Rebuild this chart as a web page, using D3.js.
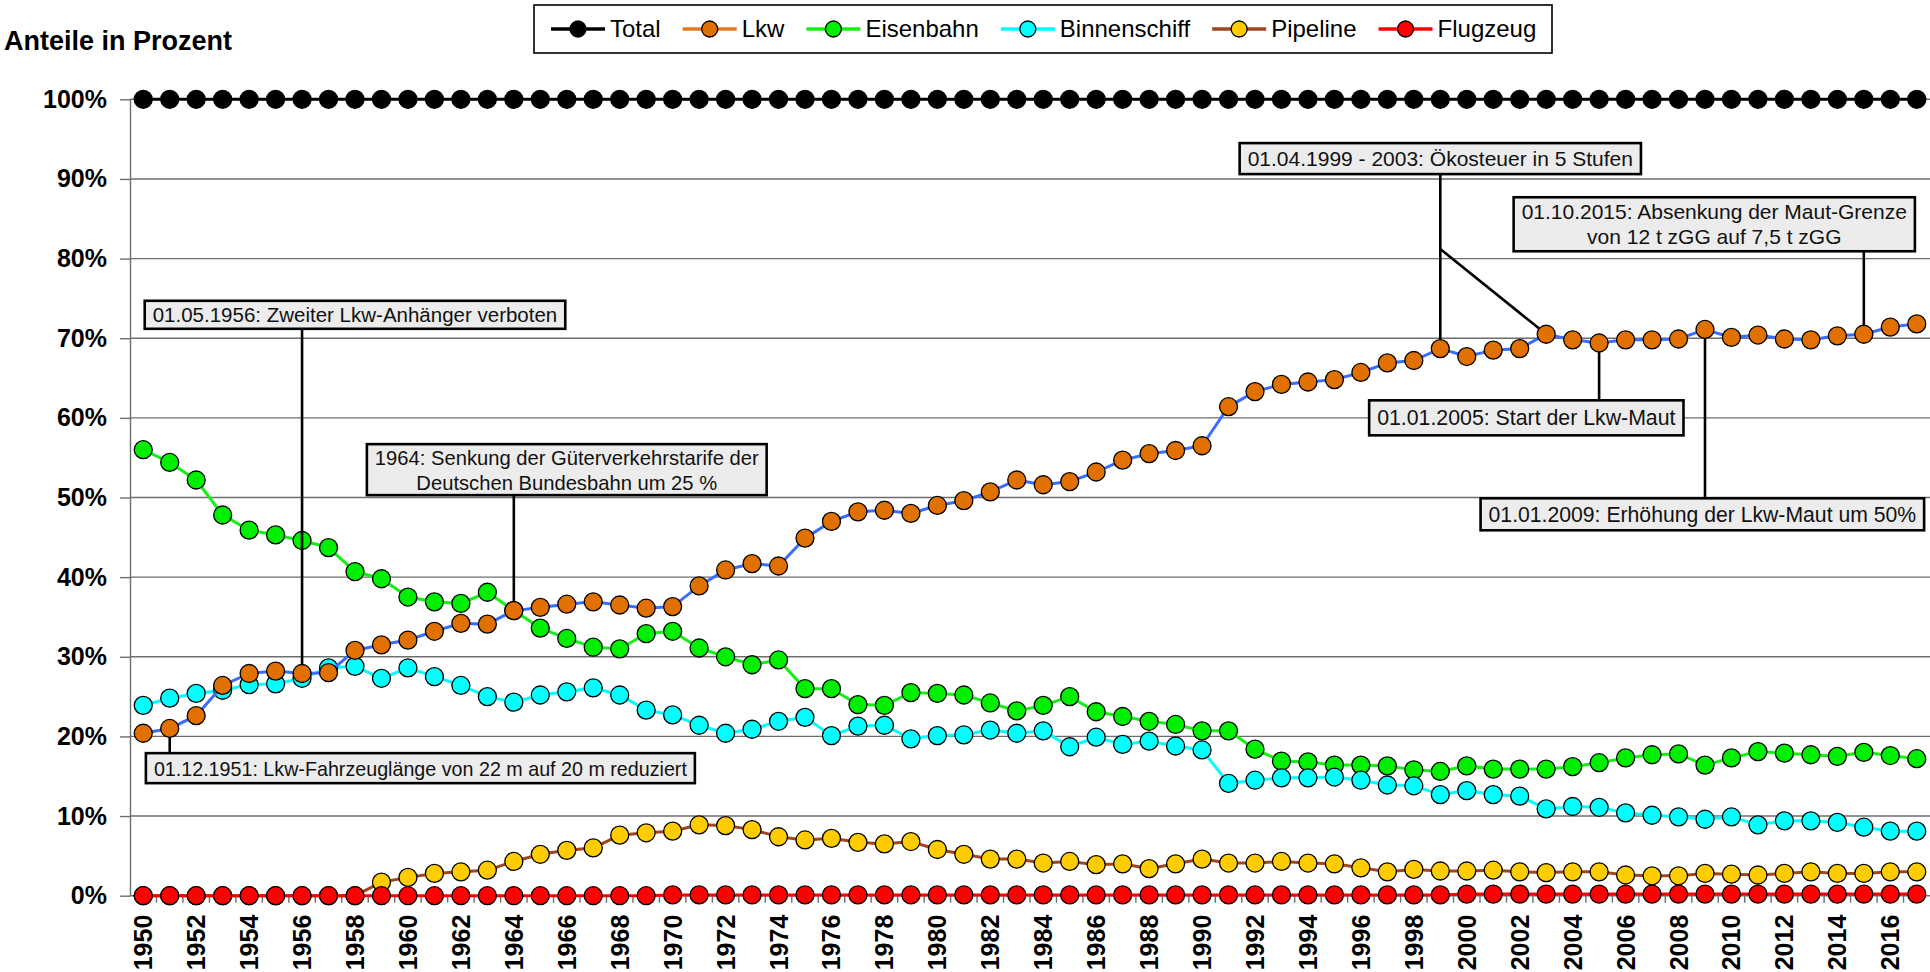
<!DOCTYPE html>
<html>
<head>
<meta charset="utf-8">
<script src="https://cdn.jsdelivr.net/npm/d3@7/dist/d3.min.js"></script>
<style>
    body { margin: 0; background: #fff; overflow: hidden; }
    svg { display: block; font-family: "Liberation Sans", Arial, sans-serif; }
</style>
</head>
<body>
<div id="chart"></div>
<script>

// categories (years)
const years = [1950, 1951, 1952, 1953, 1954, 1955, 1956, 1957, 1958, 1959,
    1960, 1961, 1962, 1963, 1964, 1965, 1966, 1967, 1968, 1969,
    1970, 1971, 1972, 1973, 1974, 1975, 1976, 1977, 1978, 1979,
    1980, 1981, 1982, 1983, 1984, 1985, 1986, 1987, 1988, 1989,
    1990, 1991, 1992, 1993, 1994, 1995, 1996, 1997, 1998, 1999,
    2000, 2001, 2002, 2003, 2004, 2005, 2006, 2007, 2008, 2009,
    2010, 2011, 2012, 2013, 2014, 2015, 2016, 2017];

// shares in percent
const total = [100, 100, 100, 100, 100, 100, 100, 100, 100, 100,
    100, 100, 100, 100, 100, 100, 100, 100, 100, 100,
    100, 100, 100, 100, 100, 100, 100, 100, 100, 100,
    100, 100, 100, 100, 100, 100, 100, 100, 100, 100,
    100, 100, 100, 100, 100, 100, 100, 100, 100, 100,
    100, 100, 100, 100, 100, 100, 100, 100, 100, 100,
    100, 100, 100, 100, 100, 100, 100, 100];

const lkw = [20.4, 21.0, 22.6, 26.4, 27.9, 28.2, 27.9, 28.0, 30.8, 31.5,
    32.1, 33.2, 34.2, 34.1, 35.8, 36.2, 36.6, 36.9, 36.5, 36.1,
    36.3, 38.9, 40.9, 41.7, 41.4, 44.9, 47.0, 48.2, 48.4, 48.0,
    49.0, 49.6, 50.7, 52.2, 51.6, 52.0, 53.2, 54.7, 55.5, 55.9,
    56.5, 61.4, 63.3, 64.2, 64.5, 64.8, 65.7, 66.9, 67.2, 68.7,
    67.7, 68.5, 68.7, 70.5, 69.8, 69.4, 69.8, 69.8, 69.9, 71.1,
    70.1, 70.4, 69.9, 69.8, 70.3, 70.5, 71.4, 71.8];

const eisenbahn = [56.0, 54.4, 52.2, 47.8, 45.9, 45.3, 44.6, 43.7, 40.7, 39.8,
    37.5, 36.9, 36.7, 38.1, 35.8, 33.6, 32.3, 31.2, 31.0, 32.9,
    33.2, 31.1, 30.0, 29.0, 29.6, 26.0, 26.0, 24.0, 23.9, 25.5,
    25.4, 25.2, 24.2, 23.2, 23.9, 25.0, 23.1, 22.5, 21.9, 21.5,
    20.7, 20.7, 18.4, 16.9, 16.8, 16.4, 16.4, 16.3, 15.8, 15.6,
    16.3, 15.9, 15.9, 15.9, 16.2, 16.7, 17.3, 17.7, 17.8, 16.4,
    17.3, 18.1, 17.9, 17.7, 17.5, 18.0, 17.6, 17.2];

const binnenschiff = [23.9, 24.8, 25.4, 25.8, 26.5, 26.6, 27.3, 28.6, 28.8, 27.3,
    28.6, 27.5, 26.4, 25.0, 24.3, 25.2, 25.6, 26.1, 25.2, 23.3,
    22.7, 21.4, 20.4, 20.9, 21.9, 22.4, 20.1, 21.3, 21.4, 19.7,
    20.1, 20.2, 20.8, 20.4, 20.7, 18.7, 19.9, 19.0, 19.4, 18.8,
    18.3, 14.1, 14.5, 14.8, 14.8, 14.9, 14.5, 13.9, 13.8, 12.7,
    13.2, 12.7, 12.5, 10.9, 11.2, 11.1, 10.4, 10.1, 9.9, 9.6,
    9.9, 8.9, 9.4, 9.4, 9.2, 8.6, 8.1, 8.1];

const pipeline = [0, 0, 0, 0, 0, 0, 0, 0, 0, 1.7,
    2.3, 2.8, 3.0, 3.2, 4.3, 5.2, 5.7, 6.0, 7.6, 7.9,
    8.1, 8.9, 8.8, 8.3, 7.4, 7.0, 7.2, 6.7, 6.5, 6.8,
    5.8, 5.2, 4.6, 4.6, 4.1, 4.3, 3.9, 4.0, 3.4, 4.0,
    4.6, 4.1, 4.1, 4.3, 4.1, 4.0, 3.5, 3.0, 3.3, 3.1,
    3.1, 3.2, 3.0, 2.9, 3.0, 3.0, 2.6, 2.5, 2.5, 2.8,
    2.7, 2.6, 2.8, 3.0, 2.8, 2.8, 3.0, 3.0];

const flugzeug = [0, 0, 0, 0, 0, 0, 0, 0, 0, 0,
    0, 0, 0, 0, 0, 0, 0, 0, 0, 0,
    0.1, 0.1, 0.1, 0.1, 0.1, 0.1, 0.1, 0.1, 0.1, 0.1,
    0.1, 0.1, 0.1, 0.1, 0.1, 0.1, 0.1, 0.1, 0.1, 0.1,
    0.1, 0.1, 0.1, 0.1, 0.1, 0.1, 0.1, 0.1, 0.1, 0.1,
    0.2, 0.2, 0.2, 0.2, 0.2, 0.2, 0.2, 0.2, 0.2, 0.2,
    0.2, 0.2, 0.2, 0.2, 0.2, 0.2, 0.2, 0.2];

const yTicks = [0, 10, 20, 30, 40, 50, 60, 70, 80, 90, 100];

const seriesNames = ["Total", "Lkw", "Eisenbahn", "Binnenschiff", "Pipeline", "Flugzeug"];
const seriesValues = [total, lkw, eisenbahn, binnenschiff, pipeline, flugzeug];

// call-out boxes: cx in years, top in percent
const annotations = [
    {lines: ["01.05.1956: Zweiter Lkw-Anhänger verboten"], year: 1956, cx: 1958.0, top: 74.7, h: 28, size: 20.5},
    {lines: ["1964: Senkung der Güterverkehrstarife der", "Deutschen Bundesbahn um 25 %"], year: 1964, cx: 1966.0, top: 56.7, h: 51, size: 20.2},
    {lines: ["01.12.1951: Lkw-Fahrzeuglänge von 22 m auf 20 m reduziert"], year: 1951, cx: 1960.47, top: 17.9, h: 30, size: 21, fit: 533},
    {lines: ["01.04.1999 - 2003: Ökosteuer in 5 Stufen"], year: 1999, cx: 1999.0, top: 94.5, h: 31, size: 21, branchYear: 2003, branchAt: 81.2},
    {lines: ["01.10.2015: Absenkung der Maut-Grenze", "von 12 t zGG auf 7,5 t zGG"], year: 2015, cx: 2009.35, top: 87.7, h: 54, size: 21},
    {lines: ["01.01.2005: Start der Lkw-Maut"], year: 2005, cx: 2002.25, top: 62.2, h: 35, size: 21.3},
    {lines: ["01.01.2009: Erhöhung der Lkw-Maut um 50%"], year: 2009, cx: 2008.9, top: 49.9, h: 32, size: 21.2}
];


class ModalSplitVis {

    constructor(_parentElement) {
        this.parentElement = _parentElement;

        this.data = seriesNames.map((name, i) => ({
            name: name,
            values: years.map((yr, j) => ({year: yr, value: seriesValues[i][j]}))
        }));

        this.initVis();
    }

    initVis() {
        let vis = this;

        vis.margin = {top: 99.3, right: 0, bottom: 76.3, left: 130};
        vis.width = 1930;
        vis.height = 972;

        vis.svg = d3.select("#" + vis.parentElement).append("svg")
            .attr("width", vis.width)
            .attr("height", vis.height);

        vis.colors = {
            'Total':        {line: '#000000', fill: '#000000', legend: '#000000'},
            'Lkw':          {line: '#3b6cff', fill: '#e07000', legend: '#e07a1e'},
            'Eisenbahn':    {line: '#14f014', fill: '#00ee00', legend: '#14f014'},
            'Binnenschiff': {line: '#00ffff', fill: '#00ffff', legend: '#00ffff'},
            'Pipeline':     {line: '#a0461e', fill: '#ffcc00', legend: '#a0461e'},
            'Flugzeug':     {line: '#ff0000', fill: '#ff0000', legend: '#ff0000'}
        };

        vis.x = d3.scaleBand()
            .domain(years)
            .range([vis.margin.left, vis.width - vis.margin.right]);

        vis.y = d3.scaleLinear()
            .domain([0, 100])
            .range([vis.height - vis.margin.bottom, vis.margin.top]);

        // fractional years for placing call-out boxes
        vis.xc = d3.scaleLinear()
            .domain([years[0], years[years.length - 1]])
            .range([vis.x(years[0]) + vis.x.bandwidth() / 2, vis.x(years[years.length - 1]) + vis.x.bandwidth() / 2]);

        vis.r = 9;

        // gridlines
        vis.svg.append("g")
            .attr("class", "grid")
            .selectAll("line")
            .data(yTicks)
            .enter()
            .append("line")
            .attr("x1", vis.margin.left)
            .attr("x2", vis.width - vis.margin.right)
            .attr("y1", d => vis.y(d))
            .attr("y2", d => vis.y(d))
            .attr("stroke", "#6e6e6e")
            .attr("stroke-width", 1.4);

        // y axis
        vis.yAxis = d3.axisLeft(vis.y)
            .tickValues(yTicks)
            .tickSize(10)
            .tickSizeOuter(0)
            .tickPadding(13)
            .tickFormat(d => d + "%");

        let yAxisG = vis.svg.append("g")
            .attr("class", "y-axis axis")
            .attr("transform", "translate(" + vis.margin.left + ",0)")
            .call(vis.yAxis);

        yAxisG.select(".domain").attr("stroke", "#6e6e6e").attr("stroke-width", 1.4);
        yAxisG.selectAll(".tick line").attr("stroke", "#6e6e6e").attr("stroke-width", 1.4);
        yAxisG.selectAll(".tick text")
            .attr("font-size", 25)
            .attr("font-weight", "bold")
            .attr("fill", "#000")
            .attr("font-family", "Liberation Sans, Arial, sans-serif");

        // x axis: tick marks between categories, labels every 2nd year
        vis.svg.append("g")
            .attr("class", "x-ticks")
            .selectAll("line")
            .data(years.slice(1))
            .enter()
            .append("line")
            .attr("x1", d => vis.x(d))
            .attr("x2", d => vis.x(d))
            .attr("y1", vis.y(0))
            .attr("y2", vis.y(0) + 7)
            .attr("stroke", "#6e6e6e")
            .attr("stroke-width", 1.4);

        vis.xAxis = d3.axisBottom(vis.x)
            .tickValues(years.filter(d => d % 2 === 0))
            .tickSize(0)
            .tickSizeOuter(0);

        let xAxisG = vis.svg.append("g")
            .attr("class", "x-axis axis")
            .attr("transform", "translate(0," + vis.y(0) + ")")
            .call(vis.xAxis);

        xAxisG.select(".domain").remove();
        xAxisG.selectAll(".tick text")
            .attr("transform", "rotate(-90)")
            .attr("text-anchor", "end")
            .attr("x", -19)
            .attr("y", 0)
            .attr("dy", "0.36em")
            .attr("font-size", 25)
            .attr("font-weight", "bold")
            .attr("fill", "#000")
            .attr("font-family", "Liberation Sans, Arial, sans-serif");

        // axis title
        vis.svg.append("text")
            .attr("class", "axis-title")
            .attr("x", 4)
            .attr("y", 50)
            .attr("font-size", 27)
            .attr("font-weight", "bold")
            .attr("fill", "#000")
            .text("Anteile in Prozent");

        vis.updateVis();
        vis.drawAnnotations();
        vis.drawLegend();
    }

    updateVis() {
        let vis = this;

        let cx = d => vis.x(d.year) + vis.x.bandwidth() / 2;

        vis.line = d3.line()
            .x(cx)
            .y(d => vis.y(d.value));

        // Excel stacking order seen in the picture
        let drawOrder = ["Total", "Eisenbahn", "Binnenschiff", "Pipeline", "Flugzeug", "Lkw"];

        drawOrder.forEach(name => {
            let s = vis.data.find(d => d.name === name);
            let g = vis.svg.append("g").attr("class", "series " + name.toLowerCase());

            g.append("path")
                .datum(s.values)
                .attr("d", vis.line)
                .attr("fill", "none")
                .attr("stroke", vis.colors[name].line)
                .attr("stroke-width", 3);

            g.selectAll("circle")
                .data(s.values)
                .enter()
                .append("circle")
                .attr("cx", cx)
                .attr("cy", d => vis.y(d.value))
                .attr("r", vis.r)
                .attr("fill", vis.colors[name].fill)
                .attr("stroke", "#000")
                .attr("stroke-width", 1.3);
        });
    }

    drawAnnotations() {
        let vis = this;

        let lkwAt = yr => lkw[years.indexOf(yr)];
        let px = yr => vis.x(yr) + vis.x.bandwidth() / 2;

        let g = vis.svg.append("g").attr("class", "annotations");

        annotations.forEach(a => {
            let bx = vis.xc(a.cx);
            let top = vis.y(a.top);
            let bottom = top + a.h;
            let pX = px(a.year);
            let pY = vis.y(lkwAt(a.year));

            // leader line
            if (bottom < pY) {
                g.append("line")
                    .attr("x1", pX).attr("x2", pX)
                    .attr("y1", bottom).attr("y2", pY - vis.r)
                    .attr("stroke", "#000").attr("stroke-width", 2.6);
            } else {
                g.append("line")
                    .attr("x1", pX).attr("x2", pX)
                    .attr("y1", pY + vis.r).attr("y2", top)
                    .attr("stroke", "#000").attr("stroke-width", 2.6);
            }

            if (a.branchYear) {
                let sx = pX, sy = vis.y(a.branchAt);
                let ex = px(a.branchYear), ey = vis.y(lkwAt(a.branchYear));
                let len = Math.hypot(ex - sx, ey - sy);
                g.append("line")
                    .attr("x1", sx).attr("y1", sy)
                    .attr("x2", ex - (ex - sx) / len * vis.r)
                    .attr("y2", ey - (ey - sy) / len * vis.r)
                    .attr("stroke", "#000").attr("stroke-width", 2.6);
            }

            let box = g.append("g");
            let rect = box.append("rect");

            let texts = box.selectAll("text")
                .data(a.lines)
                .enter()
                .append("text")
                .attr("x", bx)
                .attr("y", (d, i) => {
                    if (a.lines.length === 1) return top + a.h / 2 + 7.5;
                    return top + a.h / 2 - 5 + i * 25;
                })
                .attr("text-anchor", "middle")
                .attr("font-size", a.size)
                .attr("fill", "#111")
                .text(d => d);

            if (a.fit) {
                texts.attr("textLength", a.fit).attr("lengthAdjust", "spacingAndGlyphs");
            }

            let w = a.fit ? a.fit : d3.max(texts.nodes(), n => n.getComputedTextLength());
            w = w + 16;

            rect.attr("x", bx - w / 2)
                .attr("y", top)
                .attr("width", w)
                .attr("height", a.h)
                .attr("fill", "#ececec")
                .attr("stroke", "#000")
                .attr("stroke-width", 2.6);
        });
    }

    drawLegend() {
        let vis = this;

        let g = vis.svg.append("g").attr("class", "legend");

        g.append("rect")
            .attr("x", 534)
            .attr("y", 5)
            .attr("width", 1018)
            .attr("height", 48)
            .attr("fill", "#fff")
            .attr("stroke", "#000")
            .attr("stroke-width", 1.6);

        let lx = 551;
        let ly = 29;

        seriesNames.forEach(name => {
            g.append("line")
                .attr("x1", lx).attr("x2", lx + 54)
                .attr("y1", ly).attr("y2", ly)
                .attr("stroke", vis.colors[name].legend)
                .attr("stroke-width", 3.5);

            g.append("circle")
                .attr("cx", lx + 27)
                .attr("cy", ly)
                .attr("r", 8)
                .attr("fill", vis.colors[name].fill)
                .attr("stroke", "#000")
                .attr("stroke-width", 1.3);

            let t = g.append("text")
                .attr("x", lx + 59)
                .attr("y", ly)
                .attr("dy", "0.35em")
                .attr("font-size", 24)
                .attr("fill", "#000")
                .text(name);

            lx = lx + 59 + t.node().getComputedTextLength() + 22;
        });
    }
}

new ModalSplitVis("chart");

</script>
</body>
</html>
